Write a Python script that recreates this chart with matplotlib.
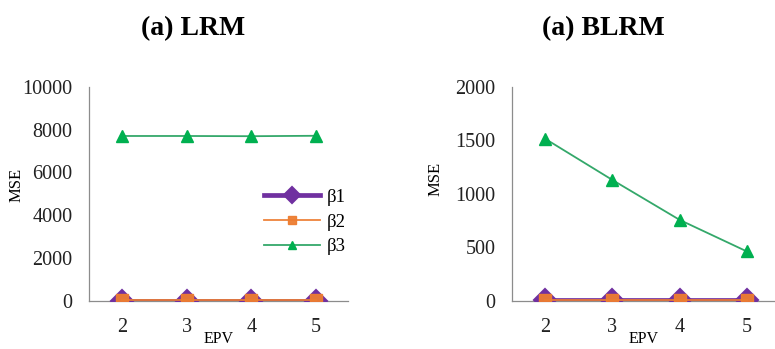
import matplotlib
matplotlib.use("Agg")
import matplotlib.pyplot as plt

epv = [2, 3, 4, 5]
lrm_b1 = [20, 20, 20, 20]
lrm_b2 = [30, 30, 30, 30]
lrm_b3 = [7700, 7700, 7690, 7710]
blrm_b1 = [5, 5, 5, 5]
blrm_b2 = [8, 8, 8, 8]
blrm_b3 = [1515, 1130, 757, 462]
labels = ["β1", "β2", "β3"]
titles = ["(a) LRM", "(a) BLRM"]

plt.rcParams['font.family'] = ['Liberation Serif', 'DejaVu Serif']

fig = plt.figure(figsize=(7.75, 3.49), dpi=100)
ax1 = fig.add_axes([89/775, 1-301/349, (348-89)/775, (301-86.7)/349])
ax2 = fig.add_axes([512/775, 1-301/349, (775-512)/775, (301-86.7)/349])

purple = "#7030A0"
orange = "#ED7D31"
green = "#00B050"

def draw(ax, b1, b2, b3, ymax, yticks, xlim):
    l1, = ax.plot(epv, b1, color=purple, lw=3.4, marker="D", ms=11, mec=purple, mfc=purple,
                  mew=1.5, zorder=3)
    l2, = ax.plot(epv, b2, color=orange, lw=1.3, marker="s", ms=8.5, mec=orange, mfc=orange,
                  alpha=0.95, zorder=4)
    l3, = ax.plot(epv, b3, color="#34A86A", lw=1.3, marker="^", ms=8, mec=green, mfc=green, zorder=5)
    ax.set_ylim(0, ymax)
    ax.set_xlim(*xlim)
    ax.set_yticks(yticks)
    ax.set_xticks(epv)
    ax.tick_params(length=0, labelsize=14.5, colors="#222222")
    ax.tick_params(axis="x", pad=12)
    ax.tick_params(axis="y", pad=12)
    for s in ["top", "right"]:
        ax.spines[s].set_visible(False)
    for s in ["left", "bottom"]:
        ax.spines[s].set_color("#8c8c8c")
        ax.spines[s].set_linewidth(0.9)
    ax.set_ylabel("MSE", fontsize=12)
    ax.set_xlabel("EPV", fontsize=11.5, labelpad=-4)
    return [l1, l2, l3]

h = draw(ax1, lrm_b1, lrm_b2, lrm_b3, 10000, [0, 2000, 4000, 6000, 8000, 10000], (1.49, 5.495))
draw(ax2, blrm_b1, blrm_b2, blrm_b3, 2000, [0, 500, 1000, 1500, 2000], (1.51, 5.416))

ax1.yaxis.set_label_coords(-(89-25)/259, (301-185)/214.3)
ax2.yaxis.set_label_coords(-(512-444)/263, (301-179)/214.3)

fig.legend(h, labels, loc="center left", bbox_to_anchor=(247/775, 1-222/349),
           frameon=False, fontsize=13.5, handlelength=3.0, handletextpad=0.35,
           labelspacing=0.4, markerscale=0.7)

fig.text(193/775, 1-29/349, titles[0], ha="center", va="center", fontsize=20, fontweight="bold")
fig.text(603/775, 1-29/349, titles[1], ha="center", va="center", fontsize=20, fontweight="bold")

fig.savefig("out.png", dpi=100)
